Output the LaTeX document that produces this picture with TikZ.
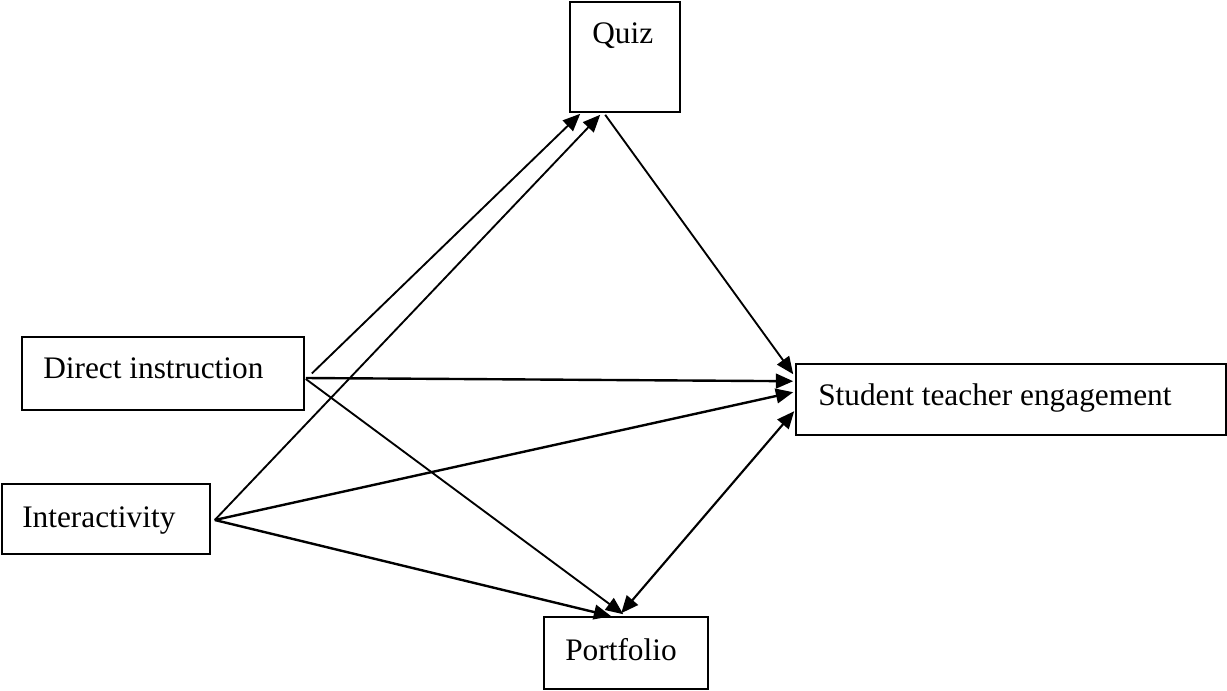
\documentclass[tikz,border=0pt]{standalone}
\usepackage{fontspec}
\setmainfont{Liberation Serif}
\usetikzlibrary{arrows.meta,calc}
\begin{document}
\begin{tikzpicture}[x=0.75pt,y=-0.75pt,
  box/.style={draw,line width=1.2pt,rectangle,inner sep=0pt},
  lbl/.style={anchor=base west,inner sep=0pt,font=\fontsize{23.5}{28}\selectfont},
  thin arrow/.style={line width=1.4pt,-{Triangle[length=13pt,width=11pt]}},
  thick arrow/.style={line width=1.8pt,-{Triangle[length=13pt,width=11pt]}},
  both arrow/.style={line width=1.6pt,{Triangle[length=13pt,width=11pt]}-{Triangle[length=13pt,width=11pt]}}]
\useasboundingbox (0,0) rectangle (1227,690);
\fill[white] (0,0) rectangle (1227,690);
% boxes
\node[box,minimum width=110*0.75pt,minimum height=110*0.75pt] (quiz) at (625,57) {};
\node[box,minimum width=282*0.75pt,minimum height=73*0.75pt] (di) at (163,373.5) {};
\node[box,minimum width=208*0.75pt,minimum height=70*0.75pt] (int) at (106,519) {};
\node[box,minimum width=430*0.75pt,minimum height=71*0.75pt] (ste) at (1011,399.5) {};
\node[box,minimum width=164*0.75pt,minimum height=72*0.75pt] (port) at (626,653) {};
% labels
\node[lbl] (quizt) at (592,43) {Quiz};
\node[lbl] (dit) at (43,378) {Direct instruction};
\node[lbl] (intt) at (22,527) {Interactivity};
\node[lbl] (stet) at (818,405) {Student teacher engagement};
\node[lbl] (portt) at (565,660) {Portfolio};
% connectors
\draw[thin arrow] ($(di.east)+(7,0)$) -- ($(quiz.south west)+(11,1)$);
\draw[thin arrow] ($(int.east)+(4,1)$) -- ($(quiz.south west)+(31,2)$);
\draw[thin arrow] ($(quiz.south west)+(36,2)$) -- ($(ste.north west)+(-2,11)$);
\draw[thick arrow] ($(di.east)+(1,4.5)$) -- ($(ste.north west)+(-2,18)$);
\draw[thick arrow] ($(int.east)+(4,1)$) -- ($(ste.north west)+(-2,29)$);
\draw[thin arrow] ($(di.east)+(1,5.5)$) -- ($(port.north west)+(80,-2)$);
\draw[thick arrow] ($(int.east)+(4,1)$) -- ($(port.north west)+(68,0)$);
\draw[both arrow] ($(ste.north west)+(-1,48)$) -- ($(port.north west)+(78,-3)$);
\end{tikzpicture}
\end{document}
